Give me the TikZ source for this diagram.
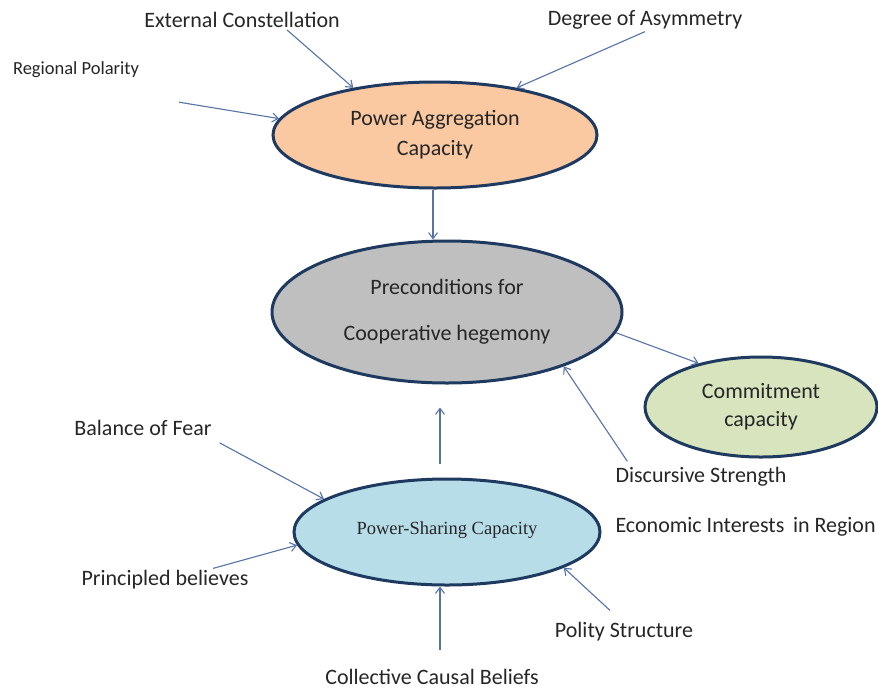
\documentclass[tikz,border=0pt]{standalone}
\usepackage{fontspec}
\setmainfont{Carlito}
\newfontfamily\pscfont{Liberation Serif}
\usetikzlibrary{arrows.meta,
shapes.geometric,
positioning}
\definecolor{rimblue}{HTML}{1F3A60}
\definecolor{linkblue}{HTML}{5573A8}
\definecolor{peach}{HTML}{FAC9A2}
\definecolor{greyfill}{HTML}{BFBFBF}
\definecolor{sage}{HTML}{D7E4BD}
\definecolor{skyfill}{HTML}{B7DDE8}

\begin{document}
\begin{tikzpicture} [x=1pt, y=-1pt,
        >={Straight Barb[length=6pt, width=9pt]},
        bubble/.style={ellipse, draw = rimblue, line width = 3pt,
                inner sep = 0pt, align = center, text = black!85,
                font = \fontsize{22}{28}\selectfont},
        factor/.style={inner sep = 2pt, text = black!85,
                font = \fontsize{22}{26}\selectfont},
        link/.style={->, draw = linkblue, line width = 1.1pt}]

    \useasboundingbox (0,0) rectangle (878,689);

    \node [
        bubble,
        fill = peach,
        minimum width = 324pt,
        minimum height = 106pt
    ] (pac) at (435,135) {Power Aggregation\\[2pt]Capacity};

    \node [
        bubble,
        fill = greyfill,
        minimum width = 350pt,
        minimum height = 142pt
    ] (pre) at (447,312) {Preconditions for\\[18pt]Cooperative hegemony};

    \node [
        bubble,
        fill = sage,
        minimum width = 232pt,
        minimum height = 100pt
    ] (commit) at (761,407) {Commitment\\capacity};

    \node [
        bubble,
        fill = skyfill,
        minimum width = 306pt,
        minimum height = 106pt,
        font = \pscfont\fontsize{18.5}{22}\selectfont
    ] (psc) at (447,532) {\raisebox{7pt}{Power-Sharing Capacity}};

    \node [factor] (ext) at (242,20) {External Constellation};
    \node [factor] (deg) at (645,20) {Degree of Asymmetry};
    \node [
        factor,
        font = \fontsize{18.5}{22}\selectfont
    ] (reg) at (76,70) {Regional Polarity};

    \node [factor] (disc) at (701,477) {Discursive Strength};
    \node [
        factor,
        below = 26pt of disc.south west,
        anchor = north west
    ] (econ) {Economic Interests\, in Region};

    \node [factor] (bal) at (143,428) {Balance of Fear};
    \node [factor] (prin) at (165,580) {Principled believes};
    \node [factor] (coll) at (432,677) {Collective Causal Beliefs};
    \node [factor] (pol) at (624,632) {Polity Structure};

    \draw [link] ([xshift=45pt]ext.south) -- (pac.150);
    \draw [link] (deg.south) -- (pac.30);
    \draw [link] ([shift={(38pt,-22pt)}]reg.south east) -- (pac.174);
    \draw [link] ([xshift=-2pt]pac.south) -- ([xshift=-2pt]pac.south |- pre.north);

    \draw [link] (pre.-7) -- (commit.145);
    \draw [link] ([shift={(14pt,4pt)}]disc.north west) -- (pre.-25);
    \draw [link, shorten <=14pt, shorten >=23pt]
        ([xshift=-7pt]psc.north) -- ([xshift=-7pt]psc.north |- pre.south);

    \draw [link] ([shift={(6pt,-5pt)}]bal.south east) -- (psc.165);
    \draw [link] ([xshift=48pt]prin.north) -- (psc.185);
    \draw [link, shorten <=17pt]
        ([xshift=8pt]coll.north) -- ([xshift=8pt]coll.north |- psc.south);
    \draw [link] ([shift={(-14pt,10pt)}]pol.north) -- (psc.-17);

\end{tikzpicture}
\end{document}
